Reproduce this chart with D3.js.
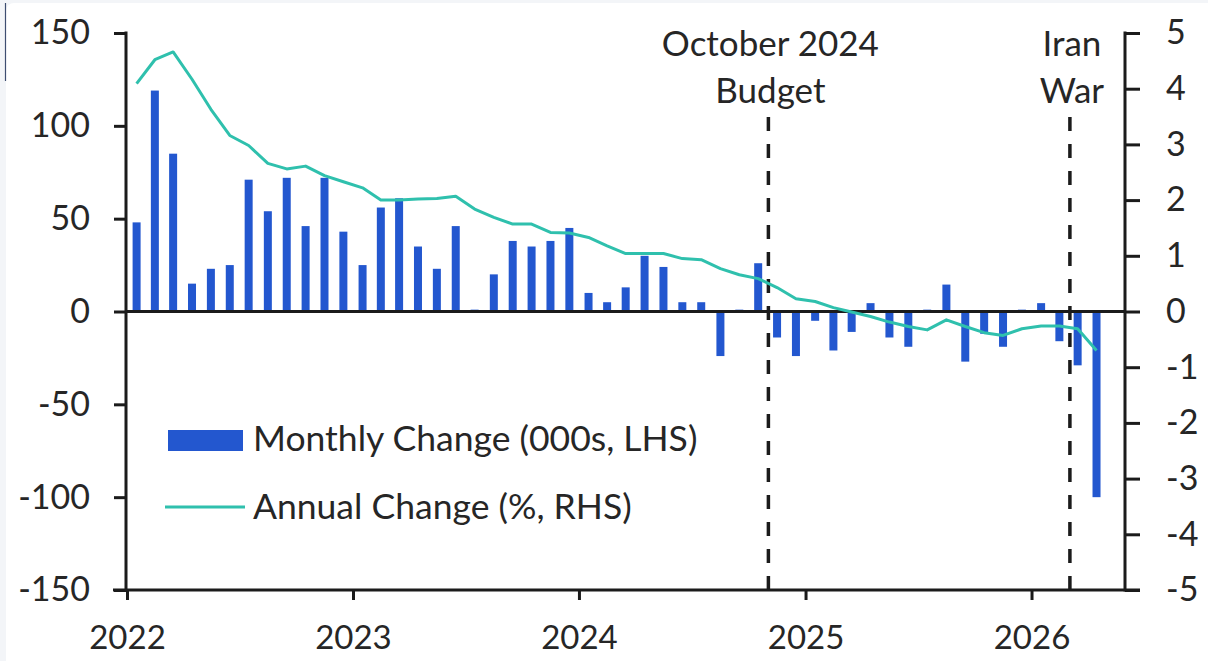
<!DOCTYPE html>
<html>
<head>
<meta charset="utf-8">
<script src="https://cdn.jsdelivr.net/npm/d3@7"></script>
<style>
  html, body { margin: 0; padding: 0; background: #f3f5f8; }
  svg { display: block; font-family: Lato, "Open Sans", sans-serif; }
</style>
</head>
<body>
<svg id="chart" width="1208" height="661"></svg>
<script>
// Monthly observations, Jan 2022 to Apr 2026
const months = [
  "2022-01","2022-02","2022-03","2022-04","2022-05","2022-06","2022-07","2022-08","2022-09","2022-10","2022-11","2022-12",
  "2023-01","2023-02","2023-03","2023-04","2023-05","2023-06","2023-07","2023-08","2023-09","2023-10","2023-11","2023-12",
  "2024-01","2024-02","2024-03","2024-04","2024-05","2024-06","2024-07","2024-08","2024-09","2024-10","2024-11","2024-12",
  "2025-01","2025-02","2025-03","2025-04","2025-05","2025-06","2025-07","2025-08","2025-09","2025-10","2025-11","2025-12",
  "2026-01","2026-02","2026-03","2026-04"
];

// Monthly change, 000s (left axis)
const monthlyChange = [
  48, 119, 85, 15, 23, 25, 71, 54, 72, 46, 72, 43,
  25, 56, 61, 35, 23, 46, 1, 20, 38, 35, 38, 45,
  10, 5, 13, 30, 24, 5, 5, -24, 1, 26, -14, -24,
  -5, -21, -11, 4.5, -14, -19, 1, 14.5, -27, -12, -19, 1,
  4.5, -16, -29, -100
];

// Annual change, % (right axis)
const annualChange = [
  4.09, 4.52, 4.66, 4.17, 3.63, 3.16, 2.98, 2.66, 2.56, 2.61, 2.44, 2.33,
  2.22, 2.0, 2.0, 2.02, 2.03, 2.07, 1.84, 1.69, 1.57, 1.57, 1.42, 1.41,
  1.33, 1.18, 1.04, 1.04, 1.04, 0.95, 0.93, 0.77, 0.66, 0.59, 0.43, 0.23,
  0.18, 0.07, -0.01, -0.09, -0.19, -0.27, -0.33, -0.15, -0.27, -0.38, -0.43, -0.31,
  -0.26, -0.26, -0.31, -0.70
];

const leftTicks = [-150, -100, -50, 0, 50, 100, 150];
const rightTicks = [-5, -4, -3, -2, -1, 0, 1, 2, 3, 4, 5];
const yearTicks = ["2022", "2023", "2024", "2025", "2026"];

const eventDates = ["2024-11-02", "2026-03-04"];
const eventLabels = [["October 2024", "Budget"], ["Iran", "War"]];

const legendLabels = ["Monthly Change (000s, LHS)", "Annual Change (%, RHS)"];

const barColor = "#2357cf";
const lineColor = "#2fc0ad";
const ink = "#1b1b1b";
const textColor = "#262626";

const svg = d3.select("#chart");
const parseMonth = d3.timeParse("%Y-%m");
const parseDay = d3.timeParse("%Y-%m-%d");
const plainNum = d => String(d);   // hyphen-minus for negatives

// page card
svg.append("rect")
  .attr("x", 6).attr("y", 3).attr("width", 1230).attr("height", 700)
  .attr("rx", 8).attr("fill", "#ffffff");
svg.append("line")
  .attr("x1", 5.5).attr("x2", 5.5).attr("y1", 3).attr("y2", 81)
  .attr("stroke", "#3d4d70").attr("stroke-width", 1.2);

const plotLeft = 127, plotRight = 1125, plotTop = 33, plotBottom = 590;

const x = d3.scaleTime()
  .domain([parseMonth("2022-01"), parseMonth("2026-06")])
  .range([plotLeft, plotRight]);
const yL = d3.scaleLinear().domain([-150, 150]).range([plotBottom, plotTop]);
const yR = d3.scaleLinear().domain([-5, 5]).range([plotBottom, plotTop]);

const monthCenter = m => {
  const d = parseMonth(m);
  return (x(d) + x(d3.timeMonth.offset(d, 1))) / 2;
};

const data = months.map((m, i) => ({ m, cx: monthCenter(m), v: monthlyChange[i], a: annualChange[i] }));

// bars
const barW = 8;
svg.append("g").selectAll("rect")
  .data(data)
  .join("rect")
  .attr("x", d => d.cx - barW / 2)
  .attr("width", barW)
  .attr("y", d => yL(Math.max(0, d.v)))
  .attr("height", d => Math.abs(yL(d.v) - yL(0)))
  .attr("fill", barColor);

// zero line
svg.append("line")
  .attr("x1", plotLeft - 1).attr("x2", plotRight)
  .attr("y1", yL(0)).attr("y2", yL(0))
  .attr("stroke", ink).attr("stroke-width", 3);

// event markers
const evG = svg.append("g");
eventDates.forEach((ds, i) => {
  const ex = x(parseDay(ds));
  evG.append("line")
    .attr("x1", ex).attr("x2", ex)
    .attr("y1", 117).attr("y2", plotBottom)
    .attr("stroke", ink).attr("stroke-width", 3.5)
    .attr("stroke-dasharray", "14 13");
  eventLabels[i].forEach((t, j) => {
    evG.append("text")
      .attr("x", ex + 2).attr("y", 56 + j * 47)
      .attr("text-anchor", "middle")
      .attr("font-size", 35)
      .attr("fill", textColor)
      .text(t);
  });
});

// annual change line
svg.append("path")
  .datum(data)
  .attr("fill", "none")
  .attr("stroke", lineColor)
  .attr("stroke-width", 3)
  .attr("stroke-linejoin", "round")
  .attr("d", d3.line().x(d => d.cx).y(d => yR(d.a)));

// axes
const styleAxis = (g, size) => {
  g.selectAll("path.domain").remove();
  g.selectAll(".tick line").attr("stroke", ink).attr("stroke-width", 3);
  g.selectAll(".tick text").attr("fill", textColor).attr("font-size", size).attr("font-family", "Lato, sans-serif");
};

const axL = svg.append("g").attr("transform", `translate(${plotLeft - 1},0)`)
  .call(d3.axisLeft(yL).tickValues(leftTicks).tickSize(12).tickPadding(24).tickFormat(plainNum))
  .call(styleAxis, 34);
axL.append("line").attr("x1", 0).attr("x2", 0).attr("y1", plotTop - 1.5).attr("y2", plotBottom + 1.5)
  .attr("stroke", ink).attr("stroke-width", 3);

const axR = svg.append("g").attr("transform", `translate(${plotRight},0)`)
  .call(d3.axisRight(yR).tickValues(rightTicks).tickSize(15).tickPadding(26).tickFormat(plainNum))
  .call(styleAxis, 34);
axR.append("line").attr("x1", 0).attr("x2", 0).attr("y1", plotTop - 1.5).attr("y2", plotBottom + 1.5)
  .attr("stroke", ink).attr("stroke-width", 3);

const axB = svg.append("g").attr("transform", `translate(0,${plotBottom})`)
  .call(d3.axisBottom(x).tickValues(yearTicks.map(y => parseMonth(y + "-01"))).tickSize(10).tickPadding(26).tickFormat(d3.timeFormat("%Y")))
  .call(styleAxis, 33);
axB.append("line").attr("x1", plotLeft - 14).attr("x2", plotRight + 15).attr("y1", 0).attr("y2", 0)
  .attr("stroke", ink).attr("stroke-width", 3);

// legend
const lg = svg.append("g");
lg.append("rect").attr("x", 168).attr("y", 430).attr("width", 75).attr("height", 21).attr("fill", barColor);
lg.append("line").attr("x1", 165).attr("x2", 245).attr("y1", 507).attr("y2", 507)
  .attr("stroke", lineColor).attr("stroke-width", 3);
legendLabels.forEach((t, i) => {
  lg.append("text").attr("x", 253).attr("y", 451 + i * 68)
    .attr("font-size", 35.5).attr("fill", textColor).text(t);
});
</script>
</body>
</html>
